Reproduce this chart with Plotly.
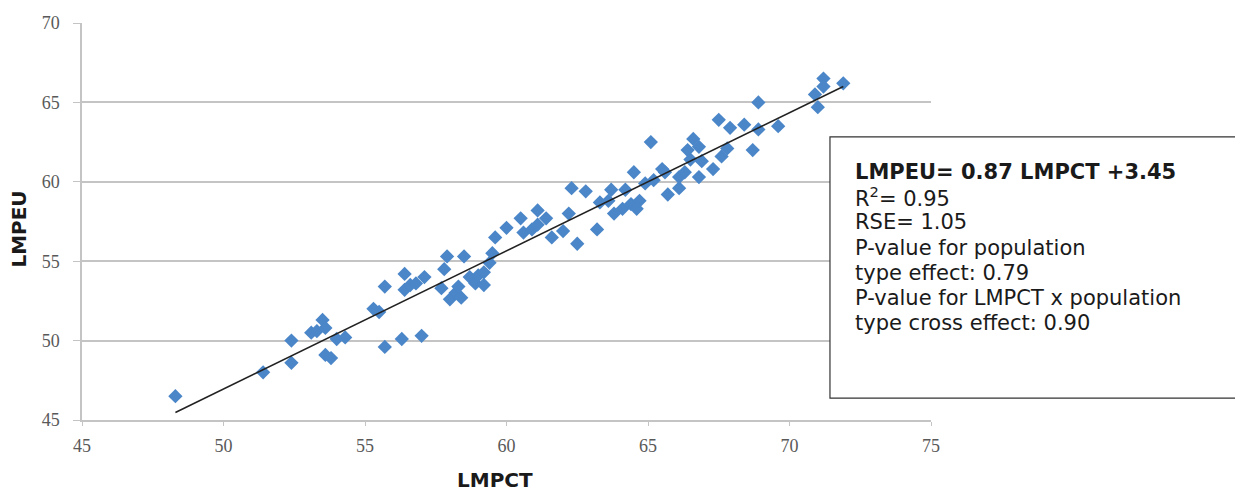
import plotly.graph_objects as go

lmpct = [48.3, 51.4, 52.4, 52.4, 53.1, 53.3, 53.5, 53.6, 53.6, 53.8, 54.0, 54.3,
         55.3, 55.5, 55.7, 55.7, 56.3, 56.4, 56.4, 56.6, 56.8, 57.1, 57.0, 57.7,
         57.8, 57.9, 58.5, 58.0, 58.2, 58.4, 58.3, 58.7, 58.9, 59.0, 59.2, 59.2,
         59.4, 59.5, 59.6, 60.0, 60.5, 60.6, 60.9, 61.1, 61.1, 61.4, 61.6, 62.0,
         62.2, 62.3, 62.5, 62.8, 63.2, 63.3, 63.6, 63.7, 63.8, 64.1, 64.2, 64.5,
         64.4, 64.6, 64.7, 64.9, 65.2, 65.1, 65.5, 65.6, 65.7, 66.1, 66.1, 66.3,
         66.4, 66.6, 66.8, 66.5, 66.9, 66.8, 67.3, 67.5, 67.6, 67.8, 67.9, 68.4,
         68.7, 68.9, 68.9, 69.6, 70.9, 71.0, 71.2, 71.2, 71.9]
lmpeu = [46.5, 48.0, 50.0, 48.6, 50.5, 50.6, 51.3, 50.8, 49.1, 48.9, 50.1, 50.2,
         52.0, 51.8, 53.4, 49.6, 50.1, 54.2, 53.2, 53.5, 53.6, 54.0, 50.3, 53.3,
         54.5, 55.3, 55.3, 52.6, 53.0, 52.7, 53.4, 54.0, 53.6, 54.1, 53.5, 54.3,
         54.9, 55.5, 56.5, 57.1, 57.7, 56.8, 57.0, 57.3, 58.2, 57.7, 56.5, 56.9,
         58.0, 59.6, 56.1, 59.4, 57.0, 58.7, 58.8, 59.5, 58.0, 58.3, 59.5, 60.6,
         58.6, 58.3, 58.8, 59.9, 60.1, 62.5, 60.8, 60.6, 59.2, 59.6, 60.3, 60.6,
         62.0, 62.7, 62.2, 61.4, 61.3, 60.3, 60.8, 63.9, 61.6, 62.1, 63.4, 63.6,
         62.0, 65.0, 63.3, 63.5, 65.5, 64.7, 66.5, 66.0, 66.2]

slope = 0.87
intercept = 3.45
fit_range = [min(lmpct), max(lmpct)]

x_ticks = [45, 50, 55, 60, 65, 70, 75]
y_ticks = [45, 50, 55, 60, 65, 70]

box_lines = [
    "<b>LMPEU= 0.87 LMPCT +3.45</b>",
    "R<sup>2</sup>= 0.95",
    "RSE= 1.05",
    "P-value for population",
    "type effect: 0.79",
    "P-value for LMPCT x population",
    "type cross effect: 0.90",
]

fig = go.Figure()
fig.add_trace(go.Scatter(
    x=lmpct, y=lmpeu, mode="markers",
    marker=dict(symbol="diamond", size=11, color="#4a86c8", line=dict(width=0)),
    showlegend=False,
))
fig.add_trace(go.Scatter(
    x=fit_range, y=[slope * v + intercept for v in fit_range], mode="lines",
    line=dict(color="#222222", width=1.5), showlegend=False,
))

tickfont = dict(family="Liberation Serif", size=18, color="#595959")
fig.update_xaxes(
    range=[45, 75], tickvals=x_ticks, showgrid=False, zeroline=False,
    showline=True, linecolor="#c4c4c4", linewidth=1.5,
    ticks="outside", ticklen=4, tickcolor="#c4c4c4", tickfont=tickfont,
    ticklabelstandoff=5,
)
fig.update_yaxes(
    range=[45, 70], tickvals=y_ticks, showgrid=True, gridcolor="#c4c4c4", gridwidth=1.5,
    zeroline=False, showline=True, linecolor="#c4c4c4", linewidth=1.5,
    ticks="outside", ticklen=7, tickcolor="#c4c4c4", tickfont=tickfont,
    ticklabelstandoff=10,
)

fig.add_shape(type="rect", xref="paper", yref="paper",
              x0=0.881, x1=1.37, y0=0.055, y1=0.713,
              line=dict(color="#333333", width=1.2), fillcolor="white", layer="above")

# one annotation per line for tight line spacing (px)
plot_h = 493 - 23 - 73
first_center_px = 172
line_step_px = 25.2
for i, line in enumerate(box_lines):
    ypx = first_center_px + i * line_step_px
    fig.add_annotation(
        xref="paper", yref="paper", x=0.908, y=(420 - ypx) / plot_h,
        xanchor="left", yanchor="middle", text=line, showarrow=False, align="left",
        font=dict(family="DejaVu Sans", size=21, color="#1a1a1a"),
    )

fig.add_annotation(
    xref="paper", yref="paper", x=0.486, y=-0.151, xanchor="center", yanchor="middle",
    text="<b>LMPCT</b>", showarrow=False,
    font=dict(family="DejaVu Sans", size=20, color="#1a1a1a"),
)
fig.add_annotation(
    xref="paper", yref="paper", x=-0.074, y=0.48, xanchor="center", yanchor="middle",
    text="<b>LMPEU</b>", showarrow=False, textangle=-90,
    font=dict(family="DejaVu Sans", size=20, color="#1a1a1a"),
)

fig.update_layout(
    width=1235, height=493,
    margin=dict(l=82, r=304, t=23, b=73),
    plot_bgcolor="white", paper_bgcolor="white",
)
fig.write_html("out.html")
